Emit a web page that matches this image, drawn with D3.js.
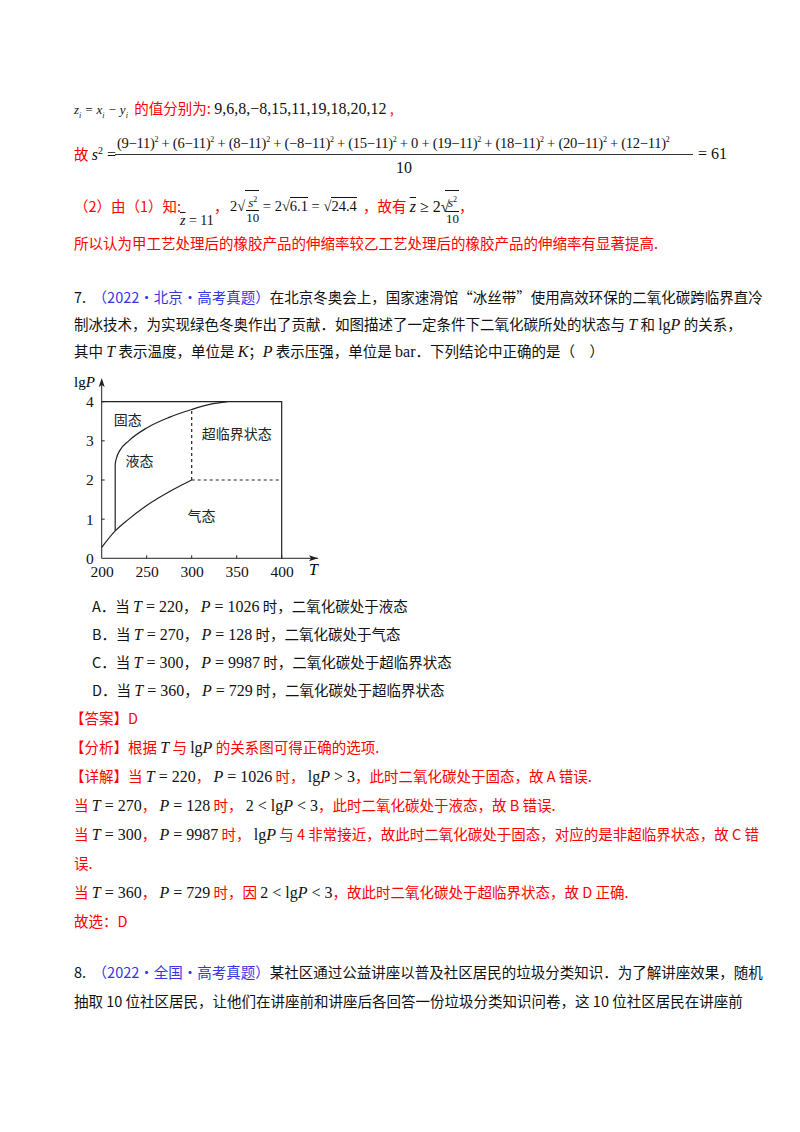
<!DOCTYPE html>
<html><head><meta charset="utf-8">
<script src="https://cdn.jsdelivr.net/npm/d3@7"></script>
<style>
body{margin:0;width:800px;height:1132px;background:#fff;position:relative;font-family:"Noto Sans CJK SC","Noto Sans",sans-serif;font-size:14.5px;color:#111}
.l{position:absolute;white-space:nowrap;line-height:20px}
.r{color:#f00}.b{color:#3535e8}
.m{font-family:"Liberation Serif","Times New Roman",serif;font-size:16px;color:#111}
.i{font-style:italic}
.fr{display:inline-block;vertical-align:middle;text-align:center;font-family:"Liberation Serif",serif;font-size:13px;line-height:14px;color:#111}
.fr .n{border-bottom:1px solid #111;padding:0 1px}
.sq{display:inline-block;vertical-align:middle;border-top:1px solid #111;padding-left:1px}
svg{position:absolute;left:0;top:0}
</style></head><body>
<div class="l" style="left:74px;top:98px"><span class="m i" style="font-size:13px">z<sub style="font-size:8px">i</sub> = x<sub style="font-size:8px">i</sub> − y<sub style="font-size:8px">i</sub></span> <span class="r">&nbsp;的值分别为:</span> <span class="m">9,6,8,−8,15,11,19,18,20,12</span> <span class="r">,</span></div>
<div class="l r" style="left:74px;top:141px">故 <span class="m i">s</span><sup class="m" style="font-size:10px">2</sup><span class="m"> =</span></div>
<div class="l m" style="left:117px;top:130px;font-size:14.6px;letter-spacing:-0.3px">(9−11)<sup style="font-size:8px">2</sup> + (6−11)<sup style="font-size:8px">2</sup> + (8−11)<sup style="font-size:8px">2</sup> + (−8−11)<sup style="font-size:8px">2</sup> + (15−11)<sup style="font-size:8px">2</sup> + 0 + (19−11)<sup style="font-size:8px">2</sup> + (18−11)<sup style="font-size:8px">2</sup> + (20−11)<sup style="font-size:8px">2</sup> + (12−11)<sup style="font-size:8px">2</sup></div>
<div style="position:absolute;left:115px;top:154px;width:578px;border-top:1px solid #333"></div>
<div class="l m" style="left:396px;top:158px">10</div>
<div class="l m" style="left:698px;top:144px">= 61</div>
<div class="l r" style="left:74px;top:196px">（2）由（1）知:</div>
<div class="l m" style="left:180px;top:211px;font-size:14px"><span style="text-decoration:overline" class="i">z</span> = 11</div>
<div class="l r" style="left:214px;top:196px">，</div>
<div class="l m" style="left:230px;top:190px;font-size:14.5px;line-height:32px">2√<span class="sq"><span class="fr"><div class="n"><i>s</i><sup style="font-size:8px">2</sup></div><div>10</div></span></span> = 2√<span style="border-top:1px solid #111">6.1</span> = √<span style="border-top:1px solid #111">24.4</span></div>
<div class="l r" style="left:363px;top:196px">，故有 <span class="m i" style="text-decoration:overline">z</span><span class="m"> ≥ 2√</span></div>
<div class="l" style="left:445px;top:190px;line-height:32px"><span class="sq"><span class="fr"><div class="n"><i>s</i><sup style="font-size:8px">2</sup></div><div>10</div></span></span><span class="r">，</span></div>
<div class="l r" style="left:74px;top:233px">所以认为甲工艺处理后的橡胶产品的伸缩率较乙工艺处理后的橡胶产品的伸缩率有显著提高.</div>

<div class="l" style="left:74px;top:287px"><span>7.</span>&nbsp;&nbsp;<span class="b">（2022·北京·高考真题）</span>在北京冬奥会上，国家速滑馆“冰丝带”使用高效环保的二氧化碳跨临界直冷</div>
<div class="l" style="left:74px;top:314px">制冰技术，为实现绿色冬奥作出了贡献．如图描述了一定条件下二氧化碳所处的状态与 <span class="m i">T</span> 和 <span class="m">lg</span><span class="m i">P</span> 的关系，</div>
<div class="l" style="left:74px;top:341px">其中 <span class="m i">T</span> 表示温度，单位是 <span class="m i">K</span>；<span class="m i">P</span> 表示压强，单位是 <span class="m">bar</span>．下列结论中正确的是（　）</div>

<div class="l" style="left:92px;top:596px">A．当 <span class="m"><i>T</i> = 220</span>， <span class="m"><i>P</i> = 1026</span> 时，二氧化碳处于液态</div>
<div class="l" style="left:92px;top:624px">B．当 <span class="m"><i>T</i> = 270</span>， <span class="m"><i>P</i> = 128</span> 时，二氧化碳处于气态</div>
<div class="l" style="left:92px;top:652px">C．当 <span class="m"><i>T</i> = 300</span>， <span class="m"><i>P</i> = 9987</span> 时，二氧化碳处于超临界状态</div>
<div class="l" style="left:92px;top:680px">D．当 <span class="m"><i>T</i> = 360</span>， <span class="m"><i>P</i> = 729</span> 时，二氧化碳处于超临界状态</div>

<div class="l r" style="left:70px;top:708px">【答案】D</div>
<div class="l r" style="left:70px;top:737px">【分析】根据 <span class="m i">T</span> 与 <span class="m">lg<i>P</i></span> 的关系图可得正确的选项.</div>
<div class="l r" style="left:70px;top:766px">【详解】当 <span class="m"><i>T</i> = 220</span>， <span class="m"><i>P</i> = 1026</span> 时， <span class="m">lg<i>P</i> &gt; 3</span>，此时二氧化碳处于固态，故 A 错误.</div>
<div class="l r" style="left:74px;top:795px">当 <span class="m"><i>T</i> = 270</span>， <span class="m"><i>P</i> = 128</span> 时， <span class="m">2 &lt; lg<i>P</i> &lt; 3</span>，此时二氧化碳处于液态，故 B 错误.</div>
<div class="l r" style="left:74px;top:824px">当 <span class="m"><i>T</i> = 300</span>， <span class="m"><i>P</i> = 9987</span> 时， <span class="m">lg<i>P</i></span> 与 4 非常接近，故此时二氧化碳处于固态，对应的是非超临界状态，故 C 错</div>
<div class="l r" style="left:74px;top:853px">误.</div>
<div class="l r" style="left:74px;top:882px">当 <span class="m"><i>T</i> = 360</span>， <span class="m"><i>P</i> = 729</span> 时，因 <span class="m">2 &lt; lg<i>P</i> &lt; 3</span>，故此时二氧化碳处于超临界状态，故 D 正确.</div>
<div class="l r" style="left:74px;top:911px">故选：D</div>

<div class="l" style="left:74px;top:962px">8.&nbsp;&nbsp;<span class="b">（2022·全国·高考真题）</span>某社区通过公益讲座以普及社区居民的垃圾分类知识．为了解讲座效果，随机</div>
<div class="l" style="left:74px;top:991px">抽取 10 位社区居民，让他们在讲座前和讲座后各回答一份垃圾分类知识问卷，这 10 位社区居民在讲座前</div>

<svg id="c" width="800" height="1132"></svg>
<script>
const xTicks=[200,250,300,350,400];
const yTicks=[0,1,2,3,4];
const solidLiquid=[[215,0.7],[215,2.4],[217,2.6],[220,2.75],[230,3.0],[250,3.33],[275,3.6],[300,3.8],[320,3.93],[340,4]];
const liquidGas=[[200,0.28],[215,0.7],[230,1.0],[250,1.35],[275,1.7],[300,2]];
const dashV=[[300,2],[300,3.8]];
const dashH=[[300,2],[400,2]];
const frame=[[200,4],[400,4],[400,0]];
const labels=[{t:"固态",x:229,y:3.4},{t:"液态",x:242,y:2.35},{t:"超临界状态",x:350,y:3.05},{t:"气态",x:311,y:0.95}];

const svg=d3.select("#c");
const x=d3.scaleLinear().domain([200,400]).range([101.7,281.7]);
const y=d3.scaleLinear().domain([0,4]).range([558.3,401.7]);
const line=d3.line().x(d=>x(d[0])).y(d=>y(d[1]));
const g=svg.append("g").attr("font-family","Liberation Serif,serif").attr("font-size",15);
const style=a=>a.selectAll("text").attr("font-size",15.5).attr("font-family","Liberation Serif,serif").attr("fill","#111");
g.append("g").attr("transform",`translate(0,${y(0)})`).call(d3.axisBottom(x).tickValues(xTicks).tickFormat(d3.format("d")).tickSize(0).tickPadding(8))
 .call(a=>{a.select(".domain").attr("d",`M${x(200)},0H318`).attr("stroke","#222");style(a);});
g.append("g").attr("transform",`translate(${x(200)},0)`).call(d3.axisLeft(y).tickValues(yTicks).tickFormat(d3.format("d")).tickSize(0).tickPadding(8))
 .call(a=>{a.select(".domain").attr("d",`M0,${y(0)}V381`).attr("stroke","#222");style(a);});
g.append("path").attr("d",`M318,${y(0)}l-9,-3l2,3l-2,3z`).attr("fill","#222");
g.append("path").attr("d",`M${x(200)},378l-3,9l3,-2l3,2z`).attr("fill","#222");
yTicks.slice(1).forEach(v=>g.append("line").attr("x1",x(200)).attr("x2",x(200)+3).attr("y1",y(v)).attr("y2",y(v)).attr("stroke","#222"));
xTicks.slice(1).forEach(v=>g.append("line").attr("x1",x(v)).attr("x2",x(v)).attr("y1",y(0)).attr("y2",y(0)-3).attr("stroke","#222"));
const add=(d,c,dash)=>{const p=g.append("path").datum(d).attr("d",c).attr("fill","none").attr("stroke","#222").attr("stroke-width",1.2);if(dash)p.attr("stroke-dasharray","3,3");};
add(frame,line);
add(solidLiquid,d3.line().x(d=>x(d[0])).y(d=>y(d[1])).curve(d3.curveMonotoneX));
add(liquidGas,d3.line().x(d=>x(d[0])).y(d=>y(d[1])).curve(d3.curveMonotoneX));
add(dashV,line,true);add(dashH,line,true);
labels.forEach(l=>g.append("text").attr("x",x(l.x)).attr("y",y(l.y)).attr("text-anchor","middle").attr("font-family","Noto Sans CJK SC,serif").attr("font-size",14).attr("fill","#222").text(l.t));
g.append("text").attr("x",74).attr("y",387).attr("font-size",15).html('lg<tspan font-style="italic">P</tspan>');
g.append("text").attr("x",309).attr("y",575).attr("font-size",16).attr("font-style","italic").text("T");
</script>
</body></html>
